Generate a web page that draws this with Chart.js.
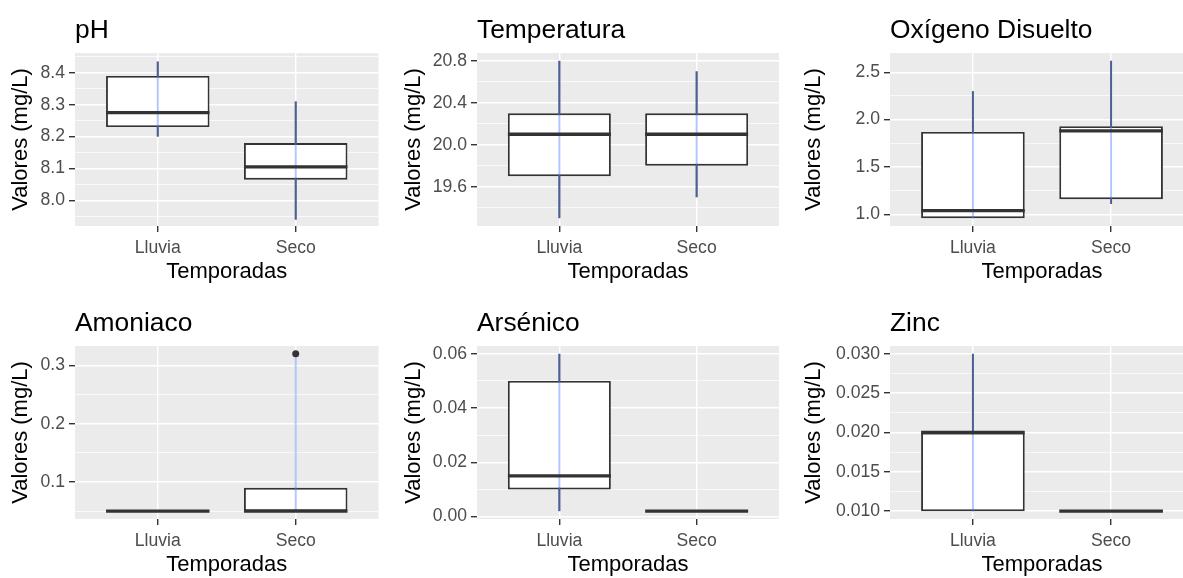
<!DOCTYPE html>
<html lang="es">
<head>
<meta charset="utf-8">
<title>Parámetros por temporada</title>
<script src="https://cdn.jsdelivr.net/npm/chart.js@4.4.1/dist/chart.umd.min.js"></script>
<style>
  html, body { margin: 0; padding: 0; background: #fff; overflow: hidden; }
  body { width: 1183px; height: 578px; position: relative; }
  canvas { position: absolute; }
</style>
</head>
<body>
<script>
// Temporadas (eje x)
const temporadas = ["Lluvia", "Seco"];

// Cada caja: [bigote inferior, Q1, mediana, Q3, bigote superior]
const phLluvia = [8.20, 8.23, 8.275, 8.39, 8.435];
const phSeco = [7.94, 8.065, 8.105, 8.18, 8.31];
const phTicks = ["8.0", "8.1", "8.2", "8.3", "8.4"];
const phLimites = [7.92, 8.462];

const tempLluvia = [19.3, 19.7, 20.1, 20.3, 20.8];
const tempSeco = [19.5, 19.8, 20.1, 20.3, 20.7];
const tempTicks = ["19.6", "20.0", "20.4", "20.8"];
const tempLimites = [19.225, 20.875];

const oxigenoLluvia = [0.96, 0.96, 1.04, 1.87, 2.3];
const oxigenoSeco = [1.11, 1.16, 1.88, 1.93, 2.62];
const oxigenoTicks = ["1.0", "1.5", "2.0", "2.5"];
const oxigenoLimites = [0.877, 2.703];

const amoniacoLluvia = [0.05, 0.05, 0.05, 0.05, 0.05];
const amoniacoSeco = [0.05, 0.05, 0.05, 0.09, 0.09];
const amoniacoAtipicosSeco = [0.32];
const amoniacoTicks = ["0.1", "0.2", "0.3"];
const amoniacoLimites = [0.0365, 0.3335];

const arsenicoLluvia = [0.002, 0.01, 0.015, 0.05, 0.06];
const arsenicoSeco = [0.002, 0.002, 0.002, 0.002, 0.002];
const arsenicoTicks = ["0.00", "0.02", "0.04", "0.06"];
const arsenicoLimites = [-0.0009, 0.0629];

const zincLluvia = [0.01, 0.01, 0.02, 0.02, 0.03];
const zincSeco = [0.01, 0.01, 0.01, 0.01, 0.01];
const zincTicks = ["0.010", "0.015", "0.020", "0.025", "0.030"];
const zincLimites = [0.009, 0.031];

const paneles = [
  { titulo: "pH", cajas: [phLluvia, phSeco], atipicos: [[], []], ticks: phTicks, limites: phLimites },
  { titulo: "Temperatura", cajas: [tempLluvia, tempSeco], atipicos: [[], []], ticks: tempTicks, limites: tempLimites },
  { titulo: "Oxígeno Disuelto", cajas: [oxigenoLluvia, oxigenoSeco], atipicos: [[], []], ticks: oxigenoTicks, limites: oxigenoLimites },
  { titulo: "Amoniaco", cajas: [amoniacoLluvia, amoniacoSeco], atipicos: [[], amoniacoAtipicosSeco], ticks: amoniacoTicks, limites: amoniacoLimites },
  { titulo: "Arsénico", cajas: [arsenicoLluvia, arsenicoSeco], atipicos: [[], []], ticks: arsenicoTicks, limites: arsenicoLimites },
  { titulo: "Zinc", cajas: [zincLluvia, zincSeco], atipicos: [[], []], ticks: zincTicks, limites: zincLimites }
];

// Posición de cada panel en la página
const marcos = [
  { left: 0, top: 0, width: 394, plotLeft: 75, padRight: 15.5, titlePad: 7.4 },
  { left: 394, top: 0, width: 394, plotLeft: 83, padRight: 9, titlePad: 6.8 },
  { left: 788, top: 0, width: 420, plotLeft: 102, padRight: 14, titlePad: 12.8 },
  { left: 0, top: 293, width: 394, plotLeft: 75, padRight: 15.5, titlePad: 7.4 },
  { left: 394, top: 293, width: 394, plotLeft: 83, padRight: 9, titlePad: 6.8 },
  { left: 788, top: 293, width: 420, plotLeft: 102, padRight: 14, titlePad: 12.3 }
];

const ALTO = 290;
const PLOT_BOTTOM = 226;
const ANCHO_CAJA = 0.75;
const familia = "'Liberation Sans', Arial, sans-serif";
const grisTexto = "#4D4D4D";
const oscuro = "#333333";
const azul = "rgba(100, 140, 255, 0.5)";

Chart.defaults.font.family = familia;

const fondoPanel = {
  id: "fondoPanel",
  beforeDraw(chart) {
    const { ctx, chartArea: a } = chart;
    ctx.save();
    ctx.fillStyle = "#EBEBEB";
    ctx.fillRect(a.left, a.top, a.right - a.left, a.bottom - a.top);
    ctx.restore();
  }
};

function radioMediana(c) {
  const x = c.chart.scales.x;
  if (!x) return 0;
  const r = Math.abs(x.getPixelForValue(2) - x.getPixelForValue(1)) * ANCHO_CAJA / 2;
  return isFinite(r) ? r : 0;
}

function menores(mayores, lim) {
  const paso = mayores[1] - mayores[0];
  const out = [];
  for (let v = mayores[0] - paso / 2; v <= lim[1]; v += paso) {
    if (v >= lim[0]) out.push(v);
  }
  return out;
}

function crearPanel(p, m) {
  const canvas = document.createElement("canvas");
  canvas.width = m.width;
  canvas.height = ALTO;
  canvas.style.left = m.left + "px";
  canvas.style.top = m.top + "px";
  document.body.appendChild(canvas);

  const mayores = p.ticks.map(Number);
  const paso = mayores[1] - mayores[0];
  const todos = mayores.concat(menores(mayores, p.limites)).sort((a, b) => a - b);
  const indiceMayor = (v) => mayores.findIndex((t) => Math.abs(t - v) < paso * 1e-3);
  const esMayor = (c) => c.tick && indiceMayor(c.tick.value) >= 0;

  const xs = p.cajas.map((_, i) => i + 1);
  const bigotes = p.cajas.map((r, i) => ({ x: xs[i], y: [r[0], r[4]] }));
  const cajas = p.cajas.map((r, i) => ({ x: xs[i], y: [r[1], r[3]] }));
  const rangos = p.cajas.map((r, i) => ({
    x: xs[i],
    y: [Math.min(r[0], ...p.atipicos[i]), Math.max(r[4], ...p.atipicos[i])]
  }));
  const medianas = p.cajas.map((r, i) => ({ x: xs[i], y: r[2] }));
  const puntos = [];
  p.atipicos.forEach((lista, i) => lista.forEach((v) => puntos.push({ x: xs[i], y: v })));

  return new Chart(canvas, {
    type: "bar",
    data: {
      datasets: [
        {
          label: "bigote",
          data: bigotes,
          backgroundColor: oscuro,
          maxBarThickness: 1.9,
          grouped: false,
          clip: false,
          order: 5
        },
        {
          label: "caja",
          data: cajas,
          backgroundColor: "#FFFFFF",
          borderColor: oscuro,
          borderWidth: 1.9,
          borderSkipped: false,
          barPercentage: ANCHO_CAJA,
          categoryPercentage: 1,
          grouped: false,
          clip: false,
          order: 4
        },
        {
          label: "rango",
          data: rangos,
          backgroundColor: azul,
          maxBarThickness: 1.9,
          grouped: false,
          clip: false,
          order: 3
        },
        {
          type: "line",
          label: "mediana",
          data: medianas,
          showLine: false,
          pointStyle: "line",
          pointRadius: radioMediana,
          pointBorderWidth: 3.3,
          pointBorderColor: oscuro,
          clip: false,
          order: 2
        },
        {
          type: "line",
          label: "atípicos",
          data: puntos,
          showLine: false,
          pointRadius: 3.5,
          pointBorderWidth: 0,
          pointBackgroundColor: oscuro,
          clip: false,
          order: 1
        }
      ]
    },
    options: {
      responsive: false,
      animation: false,
      events: [],
      layout: { autoPadding: false, padding: { left: 0, top: 0, right: m.padRight, bottom: 0 } },
      plugins: {
        legend: { display: false },
        tooltip: { enabled: false },
        title: {
          display: true,
          text: p.titulo,
          align: "start",
          fullSize: false,
          color: "#000000",
          font: { size: 26.4, weight: "normal" },
          padding: { top: 14.5, bottom: 6.8 }
        }
      },
      scales: {
        x: {
          type: "linear",
          min: 0.4,
          max: 2.6,
          offset: false,
          afterBuildTicks: (axis) => { axis.ticks = xs.map((v) => ({ value: v })); },
          afterFit: (axis) => { axis.height = ALTO - PLOT_BOTTOM; },
          ticks: {
            autoSkip: false,
            maxRotation: 0,
            color: grisTexto,
            font: { size: 17.6 },
            padding: 6,
            callback: (v) => temporadas[Math.round(v) - 1]
          },
          grid: { offset: false, color: "#FFFFFF", lineWidth: 1.4, tickColor: oscuro, tickWidth: 1.4, tickLength: 6 },
          border: { display: false },
          title: {
            display: true,
            text: "Temporadas",
            color: "#000000",
            font: { size: 22 },
            padding: { top: 0, bottom: 4.8 }
          }
        },
        y: {
          min: p.limites[0],
          max: p.limites[1],
          afterBuildTicks: (axis) => { axis.ticks = todos.map((v) => ({ value: v })); },
          afterFit: (axis) => { axis.width = m.plotLeft; },
          ticks: {
            autoSkip: false,
            color: grisTexto,
            font: { size: 17.6 },
            padding: 4,
            callback: (v) => {
              const k = indiceMayor(v);
              return k >= 0 ? p.ticks[k] : "";
            }
          },
          grid: {
            color: "#FFFFFF",
            lineWidth: (c) => (esMayor(c) ? 1.4 : 0.7),
            tickColor: (c) => (esMayor(c) ? oscuro : "rgba(0,0,0,0)"),
            tickWidth: 1.4,
            tickLength: 6
          },
          border: { display: false },
          title: {
            display: true,
            text: "Valores (mg/L)",
            color: "#000000",
            font: { size: 22 },
            padding: { top: m.titlePad, bottom: 0 }
          }
        }
      }
    },
    plugins: [fondoPanel]
  });
}

paneles.forEach((p, i) => crearPanel(p, marcos[i]));
</script>
</body>
</html>
